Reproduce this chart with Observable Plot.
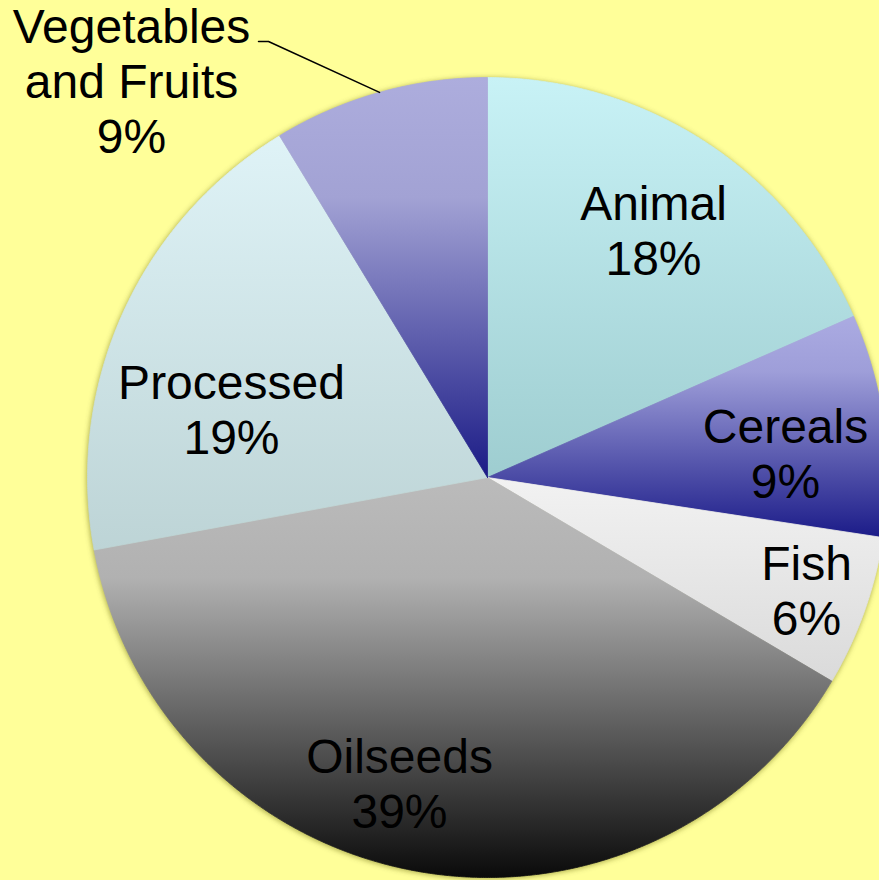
<!DOCTYPE html>
<html>
<head>
<meta charset="utf-8">
<script src="https://cdn.jsdelivr.net/npm/d3@7"></script>
<script src="https://cdn.jsdelivr.net/npm/@observablehq/plot@0.6"></script>
<style>
  html, body { margin: 0; padding: 0; background: #FFFF99; }
  #chart svg { display: block; }
</style>
</head>
<body>
<div id="chart"></div>
<script>
// ---- data ----
const categories = ["Animal", "Cereals", "Fish", "Oilseeds", "Processed", "Vegetables\nand Fruits"];
const shares = [18.4, 9.0, 6.1, 38.6, 19.2, 8.7];
const labels = categories.map((c, i) => `${c}\n${Math.round(shares[i])}%`);

// ---- layout (in pie-radius units) ----
const W = 879, H = 880, CX = 487, CY = 477, R = 400;
const labelX = [0.415, 0.745, 0.7975, -0.22, -0.64, -0.89];
const labelY = [0.62, 0.0625, -0.28, -0.7625, 0.1725, 0.993];
const leaderStart = [[-0.5725, 1.09], [-0.5475, 1.09]];
const leaderSlice = 5;

// ---- styles: vertical gradients per slice ----
const gradients = [
  [[0, "#C8F2F6"], [1, "#9ECDD0"]],
  [[0, "#ABABE2"], [0.25, "#9E9ED9"], [1, "#1B1B88"]],
  [[0, "#F2F2F2"], [1, "#DADADA"]],
  [[0, "#BBBBBB"], [0.25, "#B1B1B1"], [1, "#0A0A0A"]],
  [[0, "#DFF3F7"], [1, "#BDD4D6"]],
  [[0, "#ADADDD"], [0.3, "#A2A2D4"], [1, "#1B1B86"]]
];

const arcs = d3.pie().sort(null).value(d => d)(shares);

function slicePoints(a) {
  const pts = [{x: 0, y: 0}];
  const n = Math.max(4, Math.ceil((a.endAngle - a.startAngle) / (Math.PI / 720)));
  for (let k = 0; k <= n; k++) {
    const t = a.startAngle + (a.endAngle - a.startAngle) * k / n;
    pts.push({x: Math.sin(t), y: Math.cos(t)});
  }
  pts.push({x: 0, y: 0});
  return pts;
}

const ns = "http://www.w3.org/2000/svg";
function defsAndShadow(index, scales) {
  const g = document.createElementNS(ns, "g");
  const defs = document.createElementNS(ns, "defs");
  gradients.forEach((stops, i) => {
    const lg = document.createElementNS(ns, "linearGradient");
    lg.setAttribute("id", "grad" + i);
    lg.setAttribute("x1", "0"); lg.setAttribute("y1", "0");
    lg.setAttribute("x2", "0"); lg.setAttribute("y2", "1");
    stops.forEach(([o, c]) => {
      const s = document.createElementNS(ns, "stop");
      s.setAttribute("offset", o);
      s.setAttribute("stop-color", c);
      lg.appendChild(s);
    });
    defs.appendChild(lg);
  });
  const f = document.createElementNS(ns, "filter");
  f.setAttribute("id", "pieShadow");
  f.setAttribute("x", "-10%"); f.setAttribute("y", "-10%");
  f.setAttribute("width", "120%"); f.setAttribute("height", "120%");
  const blur = document.createElementNS(ns, "feGaussianBlur");
  blur.setAttribute("stdDeviation", "2.5");
  f.appendChild(blur);
  defs.appendChild(f);
  g.appendChild(defs);
  const c = document.createElementNS(ns, "circle");
  const x0 = scales.x(0), y0 = scales.y(0);
  c.setAttribute("cx", x0);
  c.setAttribute("cy", y0 + 1.5);
  c.setAttribute("r", scales.x(1) - x0 + 1);
  c.setAttribute("fill", "rgba(90,90,0,0.45)");
  c.setAttribute("filter", "url(#pieShadow)");
  g.appendChild(c);
  return g;
}

const sliceMarks = arcs.map((a, i) =>
  Plot.line(slicePoints(a), {
    x: "x", y: "y",
    fill: `url(#grad${i})`,
    stroke: `url(#grad${i})`,
    strokeWidth: 0.8,
    curve: "linear"
  })
);

const va = arcs[leaderSlice];
const mid = (va.startAngle + va.endAngle) / 2;
const leaderPts = [
  ...leaderStart.map(([x, y]) => ({x, y})),
  {x: Math.sin(mid), y: Math.cos(mid)}
];

const chart = Plot.plot({
  width: W, height: H, margin: 0,
  x: {domain: [-CX / R, (W - CX) / R], axis: null},
  y: {domain: [(CY - H) / R, CY / R], axis: null},
  style: {background: "#FFFF99", overflow: "hidden"},
  marks: [
    defsAndShadow,
    ...sliceMarks,
    Plot.line(leaderPts, {x: "x", y: "y", stroke: "black", strokeWidth: 1.5, curve: "linear"}),
    Plot.text(d3.range(labels.length), {
      x: i => labelX[i],
      y: i => labelY[i],
      text: i => labels[i],
      fontSize: 48,
      lineHeight: 1.15,
      fill: "black",
      fontFamily: "'Liberation Sans', Arial, sans-serif",
      textAnchor: "middle"
    })
  ]
});
document.getElementById("chart").appendChild(chart);
</script>
</body>
</html>
